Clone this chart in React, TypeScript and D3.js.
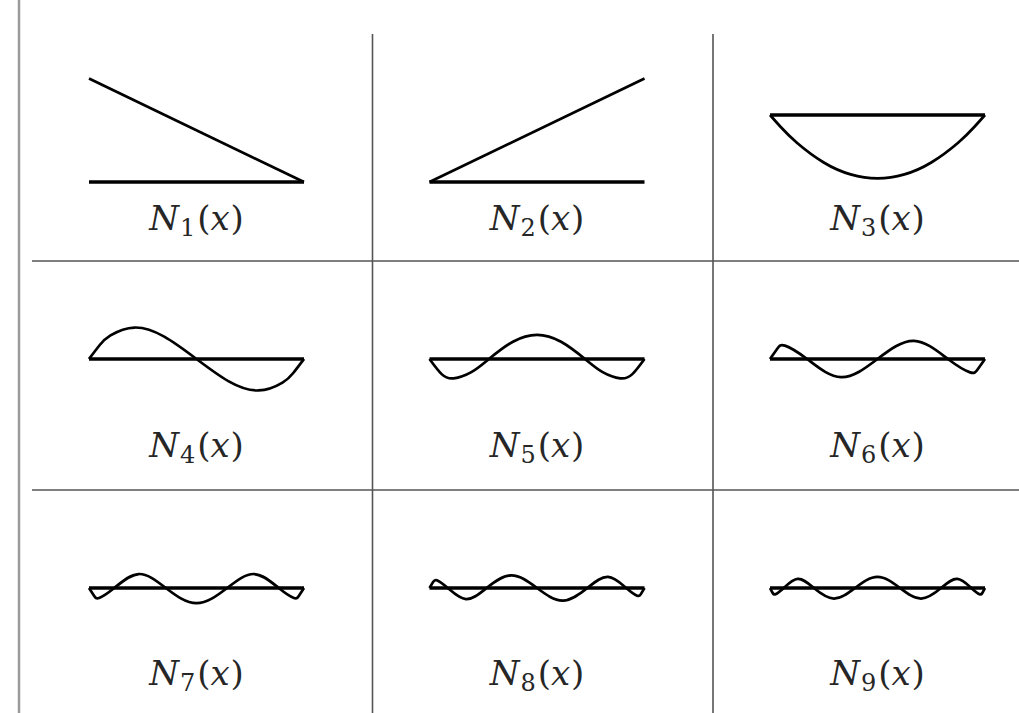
import React from "react";
import * as d3 from "d3";

// Hierarchical 1-D shape functions N1..N9 on the reference interval [-1, 1].
// Each curve is given by its end points, zero crossings, extrema and a few
// in-between samples: [x, value].
const n1: number[][] = [[-1, 1], [1, 0]];
const n2: number[][] = [[-1, 0], [1, 1]];
const n3: number[][] = [
  [-1, 0], [-0.9, -0.116], [-0.75, -0.268], [-0.5, -0.459], [-0.25, -0.574], [0, -0.612],
  [0.25, -0.574], [0.5, -0.459], [0.75, -0.268], [0.9, -0.116], [1, 0],
];
const n4: number[][] = [
  [-1, 0], [-0.9, 0.135], [-0.8, 0.228], [-0.577, 0.304], [-0.3, 0.216], [0, 0],
  [0.3, -0.216], [0.577, -0.304], [0.8, -0.228], [0.9, -0.135], [1, 0],
];
const n5: number[][] = [
  [-1, 0], [-0.887, -0.146], [-0.775, -0.187], [-0.611, -0.127], [-0.447, 0], [-0.224, 0.167], [0, 0.234],
  [0.224, 0.167], [0.447, 0], [0.611, -0.127], [0.775, -0.187], [0.887, -0.146], [1, 0],
];
const n6: number[][] = [
  [-1, 0], [-0.931, 0.101], [-0.861, 0.129], [-0.655, 0], [-0.34, -0.175], [0, 0],
  [0.34, 0.175], [0.655, 0], [0.861, -0.129], [0.931, -0.101], [1, 0],
];
const n7: number[][] = [
  [-1, 0], [-0.953, -0.075], [-0.906, -0.096], [-0.765, 0], [-0.538, 0.135], [-0.285, 0], [0, -0.147],
  [0.285, 0], [0.538, 0.135], [0.765, 0], [0.906, -0.096], [0.953, -0.075], [1, 0],
];
const n8: number[][] = [
  [-1, 0], [-0.966, 0.059], [-0.932, 0.075], [-0.83, 0], [-0.661, -0.107], [-0.469, 0], [-0.239, 0.122], [0, 0],
  [0.239, -0.122], [0.469, 0], [0.661, 0.107], [0.83, 0], [0.932, -0.075], [0.966, -0.059], [1, 0],
];
const n9: number[][] = [
  [-1, 0], [-0.975, -0.048], [-0.949, -0.061], [-0.872, 0], [-0.742, 0.088], [-0.592, 0], [-0.406, -0.102],
  [-0.209, 0], [0, 0.107], [0.209, 0], [0.406, -0.102], [0.592, 0], [0.742, 0.088], [0.872, 0],
  [0.949, -0.061], [0.975, -0.048], [1, 0],
];

const shapes = [n1, n2, n3, n4, n5, n6, n7, n8, n9];
const subscripts = ["1", "2", "3", "4", "5", "6", "7", "8", "9"];

// Page layout
const W = 1019;
const H = 713;
const colCenters = [196.5, 537, 877.5];
const halfWidth = 107.5;
const unit = 103.5;
const curveBaselines = [182, 182, 115, 359, 359, 359, 588, 588, 588];
const labelBaselines = [230, 457, 685];
const vLines = [372.5, 713];
const hLines = [261, 490];
const labelFont = "DejaVu Serif";

function Label({ cx, y, sub }: { cx: number; y: number; sub: string }) {
  return (
    <text
      x={cx}
      y={y}
      textAnchor="middle"
      fontFamily={labelFont}
      fontSize={34}
      fill="#262626"
    >
      <tspan fontStyle="italic">N</tspan>
      <tspan fontSize={24} dy={6} dx={1}>{sub}</tspan>
      <tspan dy={-6} dx={2}>(</tspan>
      <tspan fontStyle="italic" dx={0}>x</tspan>
      <tspan dx={1}>)</tspan>
    </text>
  );
}

export default function App() {
  return (
    <svg
      width={W}
      height={H}
      viewBox={`0 0 ${W} ${H}`}
      style={{ position: "absolute", left: 0, top: 0, background: "#fff" }}
    >
      {/* page border on the left */}
      <line x1={19} x2={19} y1={0} y2={H} stroke="#9a9a9a" strokeWidth={2.5} />

      {/* table rules */}
      {vLines.map((x, i) => (
        <line key={`v${i}`} x1={x} x2={x} y1={34} y2={H} stroke="#555" strokeWidth={1.6} />
      ))}
      {hLines.map((y, i) => (
        <line key={`h${i}`} x1={32} x2={W} y1={y} y2={y} stroke="#555" strokeWidth={1.6} />
      ))}

      {shapes.map((pts, i) => {
        const col = i % 3;
        const row = Math.floor(i / 3);
        const cx = colCenters[col];
        const x = d3.scaleLinear().domain([-1, 1]).range([cx - halfWidth, cx + halfWidth]);
        const y = d3.scaleLinear().domain([0, 1]).range([curveBaselines[i], curveBaselines[i] - unit]);
        const line = d3
          .line<number[]>()
          .x((d) => x(d[0]))
          .y((d) => y(d[1]))
          .curve(pts.length > 2 ? d3.curveNatural : d3.curveLinear);
        return (
          <g key={i}>
            <line
              x1={x(-1)}
              x2={x(1)}
              y1={y(0)}
              y2={y(0)}
              stroke="#000"
              strokeWidth={3.6}
            />
            <path
              d={line(pts) || ""}
              fill="none"
              stroke="#000"
              strokeWidth={2.7}
              strokeLinejoin="round"
            />
            <Label cx={cx} y={labelBaselines[row]} sub={subscripts[i]} />
          </g>
        );
      })}
    </svg>
  );
}
